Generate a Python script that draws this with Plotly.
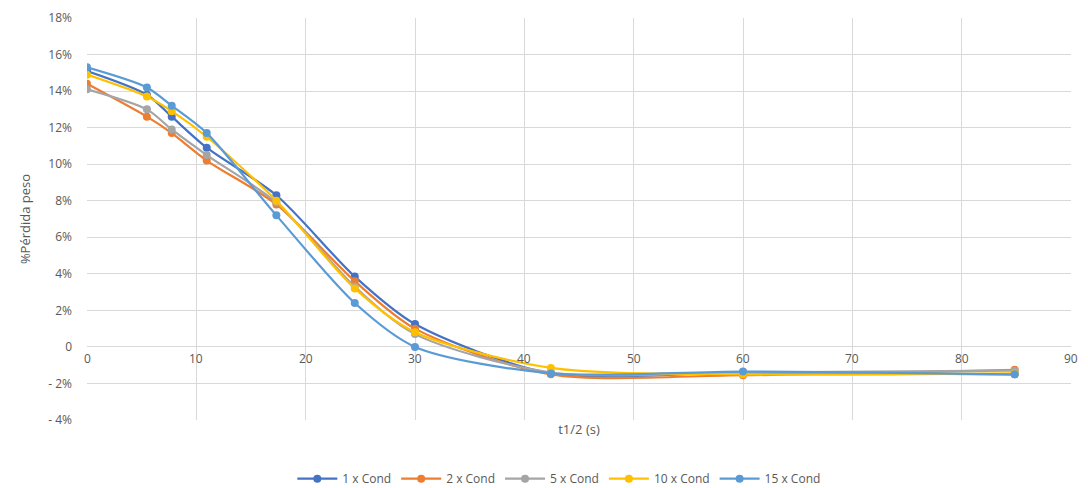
import plotly.graph_objects as go

# square root of time (s^1/2)
t_half = [0, 5.48, 7.75, 10.95, 17.32, 24.49, 30.0, 42.43, 60.0, 84.85]

# % weight loss for each conditioning level
cond_1 = [15.1, 13.8, 12.6, 10.9, 8.3, 3.85, 1.25, -1.45, -1.4, -1.5]
cond_2 = [14.4, 12.6, 11.7, 10.2, 7.8, 3.6, 1.0, -1.5, -1.55, -1.25]
cond_5 = [14.1, 13.0, 11.9, 10.5, 7.9, 3.3, 0.7, -1.4, -1.4, -1.3]
cond_10 = [14.9, 13.7, 12.9, 11.5, 8.0, 3.2, 0.8, -1.15, -1.5, -1.45]
cond_15 = [15.3, 14.2, 13.2, 11.7, 7.2, 2.4, 0.0, -1.45, -1.35, -1.5]

series_names = ["1 x Cond", "2 x Cond", "5 x Cond", "10 x Cond", "15 x Cond"]
series_values = [cond_1, cond_2, cond_5, cond_10, cond_15]
series_colors = ["#4472C4", "#ED7D31", "#A5A5A5", "#FFC000", "#5B9BD5"]

y_ticks = [-4, -2, 0, 2, 4, 6, 8, 10, 12, 14, 16, 18]
y_tick_text = ["- 4%", "- 2%", "0", "2%", "4%", "6%", "8%", "10%", "12%", "14%", "16%", "18%"]
x_ticks = [0, 10, 20, 30, 40, 50, 60, 70, 80, 90]

fig = go.Figure()
for name, vals, col in zip(series_names, series_values, series_colors):
    fig.add_trace(go.Scatter(
        x=t_half, y=vals, name=name, mode="lines+markers",
        line=dict(color=col, width=2.2, shape="spline", smoothing=0.8),
        marker=dict(color=col, size=8),
    ))

# x tick labels sit just under the zero line
for xv in x_ticks:
    fig.add_annotation(x=xv, y=0, xref="x", yref="y", text=str(xv),
                       showarrow=False, yanchor="top", yshift=-1,
                       font=dict(size=12, color="#595959"))

fig.update_layout(
    width=1088, height=488,
    margin=dict(l=87, r=17, t=18, b=68, autoexpand=False),
    paper_bgcolor="white", plot_bgcolor="white",
    font=dict(family="Open Sans, Liberation Sans, sans-serif", size=12, color="#595959"),
    legend=dict(orientation="h", x=0.48, xanchor="center", y=-0.11, yanchor="top",
                font=dict(size=12, color="#595959"), itemwidth=40),
    showlegend=True,
)
fig.update_xaxes(
    range=[0, 90], tickvals=x_ticks, showticklabels=False,
    showgrid=True, gridcolor="#D9D9D9", gridwidth=1, zeroline=False,
    showline=False, automargin=False,
    title=dict(text="t1/2 (s)", font=dict(size=13, color="#595959"), standoff=4),
)
fig.update_yaxes(
    range=[-4, 18], tickvals=y_ticks, ticktext=y_tick_text,
    showgrid=True, gridcolor="#D9D9D9", gridwidth=1, zeroline=False,
    showline=False, ticks="", ticklabelstandoff=14, automargin=False,
    title=dict(text="%Pérdida peso", font=dict(size=13, color="#595959"), standoff=14),
)

fig.write_html("out.html")
